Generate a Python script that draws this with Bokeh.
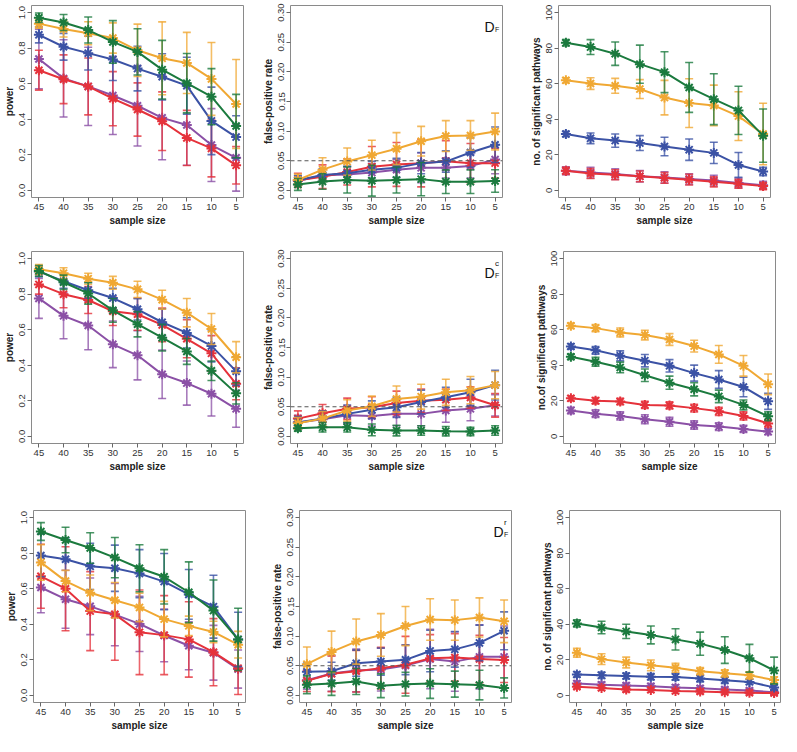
from bokeh.plotting import figure
from bokeh.layouts import row, column
from bokeh.models import Range1d, FixedTicker, NumeralTickFormatter, Span, ColumnDataSource, Label
from bokeh.embed import file_html
from bokeh.resources import INLINE

sample_size = [45, 40, 35, 30, 25, 20, 15, 10, 5]
series_order = ["purple", "red", "blue", "orange", "green"]
colors = {"green": "#1B7A3E", "orange": "#F0A833", "blue": "#3B52A5",
          "red": "#E5323B", "purple": "#8B50A6"}

power_yticks = [0.0, 0.2, 0.4, 0.6, 0.8, 1.0]
fpr_yticks = [0.0, 0.05, 0.10, 0.15, 0.20, 0.25, 0.30]
path_yticks = [0, 20, 40, 60, 80, 100]

# ---- Row 1: D_F ----
power_DF = {
    "green":  [0.971, 0.944, 0.902, 0.835, 0.779, 0.679, 0.603, 0.527, 0.362],
    "orange": [0.938, 0.908, 0.884, 0.857, 0.788, 0.743, 0.717, 0.627, 0.486],
    "blue":   [0.875, 0.808, 0.772, 0.736, 0.685, 0.639, 0.589, 0.391, 0.300],
    "red":    [0.676, 0.625, 0.585, 0.516, 0.455, 0.389, 0.295, 0.236, 0.141],
    "purple": [0.739, 0.630, 0.585, 0.534, 0.476, 0.408, 0.368, 0.255, 0.183],
}
power_DF_sd = {
    "green":  [0.027, 0.045, 0.073, 0.120, 0.130, 0.165, 0.167, 0.158, 0.178],
    "orange": [0.025, 0.045, 0.065, 0.085, 0.147, 0.205, 0.172, 0.205, 0.250],
    "blue":   [0.045, 0.075, 0.095, 0.118, 0.125, 0.130, 0.160, 0.190, 0.120],
    "red":    [0.112, 0.137, 0.160, 0.152, 0.150, 0.165, 0.155, 0.160, 0.105],
    "purple": [0.168, 0.217, 0.220, 0.220, 0.226, 0.236, 0.227, 0.205, 0.187],
}
fpr_DF = {
    "green":  [0.010, 0.015, 0.0175, 0.0164, 0.0175, 0.019, 0.0147, 0.0147, 0.0158],
    "orange": [0.0175, 0.035, 0.0486, 0.0595, 0.0704, 0.083, 0.0917, 0.0927, 0.0993],
    "blue":   [0.017, 0.026, 0.029, 0.035, 0.038, 0.046, 0.0486, 0.064, 0.077],
    "red":    [0.017, 0.023, 0.031, 0.040, 0.0437, 0.046, 0.049, 0.046, 0.046],
    "purple": [0.016, 0.0256, 0.027, 0.030, 0.035, 0.038, 0.038, 0.041, 0.052],
}
fpr_DF_sd = {
    "green":  [0.010, 0.013, 0.022, 0.026, 0.022, 0.028, 0.020, 0.020, 0.019],
    "orange": [0.010, 0.020, 0.023, 0.025, 0.027, 0.025, 0.026, 0.025, 0.031],
    "blue":   [0.008, 0.010, 0.012, 0.014, 0.016, 0.018, 0.018, 0.025, 0.030],
    "red":    [0.012, 0.020, 0.022, 0.034, 0.037, 0.040, 0.035, 0.033, 0.025],
    "purple": [0.008, 0.010, 0.013, 0.015, 0.017, 0.025, 0.017, 0.020, 0.024],
}
path_DF = {
    "green":  [83.0, 80.6, 76.9, 71.0, 66.5, 57.9, 51.3, 45.0, 30.8],
    "orange": [61.9, 60.1, 58.8, 57.0, 52.2, 49.1, 47.8, 41.8, 31.7],
    "blue":   [31.7, 29.3, 28.0, 26.6, 24.7, 22.9, 21.1, 14.3, 10.6],
    "red":    [11.0, 9.5, 8.8, 7.9, 7.0, 6.0, 4.8, 3.7, 2.4],
    "purple": [11.0, 10.0, 9.2, 7.9, 7.3, 6.4, 5.5, 4.2, 2.9],
}
path_DF_sd = {
    "green":  [1.8, 4.2, 6.6, 10.7, 11.5, 14.0, 14.3, 13.6, 15.0],
    "orange": [1.5, 3.3, 4.2, 5.3, 9.7, 13.7, 11.4, 13.7, 17.3],
    "blue":   [1.5, 3.0, 3.7, 4.2, 5.2, 6.0, 6.0, 7.0, 2.4],
    "red":    [2.0, 2.8, 2.8, 3.0, 3.0, 3.0, 2.8, 2.5, 2.0],
    "purple": [2.2, 3.0, 3.0, 3.2, 3.2, 3.0, 3.0, 2.8, 2.2],
}

# ---- Row 2: D_F^c ----
power_DFc = {
    "green":  [0.931, 0.867, 0.804, 0.709, 0.631, 0.555, 0.478, 0.369, 0.242],
    "orange": [0.940, 0.918, 0.887, 0.864, 0.827, 0.769, 0.696, 0.604, 0.445],
    "blue":   [0.927, 0.873, 0.822, 0.778, 0.715, 0.642, 0.582, 0.509, 0.367],
    "red":    [0.855, 0.800, 0.767, 0.704, 0.687, 0.627, 0.549, 0.467, 0.296],
    "purple": [0.776, 0.678, 0.624, 0.518, 0.456, 0.349, 0.300, 0.240, 0.155],
}
power_DFc_sd = {
    "green":  [0.030, 0.040, 0.060, 0.067, 0.071, 0.075, 0.073, 0.055, 0.060],
    "orange": [0.027, 0.031, 0.031, 0.036, 0.046, 0.053, 0.080, 0.087, 0.088],
    "blue":   [0.030, 0.040, 0.045, 0.055, 0.060, 0.075, 0.085, 0.090, 0.080],
    "red":    [0.055, 0.076, 0.076, 0.080, 0.090, 0.095, 0.107, 0.100, 0.090],
    "purple": [0.112, 0.129, 0.137, 0.131, 0.138, 0.136, 0.124, 0.125, 0.104],
}
fpr_DFc = {
    "green":  [0.0137, 0.0153, 0.0153, 0.011, 0.0099, 0.0099, 0.0088, 0.0082, 0.0099],
    "orange": [0.022, 0.030, 0.0438, 0.051, 0.063, 0.067, 0.0744, 0.078, 0.0865],
    "blue":   [0.0235, 0.030, 0.038, 0.045, 0.049, 0.058, 0.066, 0.0744, 0.0865],
    "red":    [0.030, 0.0389, 0.0465, 0.049, 0.0564, 0.060, 0.0618, 0.0657, 0.0525],
    "purple": [0.0235, 0.029, 0.0356, 0.0345, 0.038, 0.038, 0.0438, 0.0465, 0.0525],
}
fpr_DFc_sd = {
    "green":  [0.005, 0.008, 0.008, 0.010, 0.009, 0.008, 0.008, 0.007, 0.008],
    "orange": [0.010, 0.012, 0.018, 0.017, 0.022, 0.021, 0.022, 0.023, 0.023],
    "blue":   [0.010, 0.013, 0.015, 0.015, 0.017, 0.020, 0.017, 0.022, 0.025],
    "red":    [0.013, 0.015, 0.018, 0.018, 0.020, 0.020, 0.018, 0.018, 0.020],
    "purple": [0.012, 0.013, 0.014, 0.017, 0.020, 0.020, 0.020, 0.020, 0.018],
}
path_DFc = {
    "green":  [44.8, 42.0, 38.8, 34.4, 30.2, 26.5, 22.5, 17.7, 11.3],
    "orange": [62.2, 60.9, 58.5, 57.0, 54.5, 50.8, 46.1, 39.7, 29.3],
    "blue":   [50.6, 48.4, 45.3, 42.6, 39.7, 35.6, 32.0, 27.8, 19.7],
    "red":    [21.4, 20.1, 19.6, 17.7, 17.4, 15.9, 14.1, 11.5, 7.3],
    "purple": [14.6, 12.8, 11.5, 9.7, 8.2, 6.4, 5.5, 4.2, 2.7],
}
path_DFc_sd = {
    "green":  [1.5, 2.5, 3.0, 3.5, 3.7, 3.7, 3.5, 2.8, 2.5],
    "orange": [1.5, 2.0, 2.5, 2.7, 3.3, 3.3, 5.0, 5.8, 5.8],
    "blue":   [1.5, 2.2, 2.8, 3.5, 3.5, 4.5, 5.0, 5.5, 4.5],
    "red":    [1.5, 1.8, 1.8, 2.0, 2.0, 2.2, 2.3, 2.3, 2.0],
    "purple": [1.8, 2.2, 2.3, 2.5, 2.5, 2.3, 2.2, 2.0, 1.8],
}

# ---- Row 3: D_F^r ----
power_DFr = {
    "green":  [0.922, 0.874, 0.829, 0.775, 0.715, 0.667, 0.580, 0.477, 0.315],
    "orange": [0.748, 0.643, 0.577, 0.535, 0.495, 0.429, 0.391, 0.357, 0.285],
    "blue":   [0.787, 0.766, 0.726, 0.715, 0.685, 0.640, 0.568, 0.499, 0.315],
    "red":    [0.670, 0.600, 0.474, 0.456, 0.355, 0.339, 0.315, 0.243, 0.153],
    "purple": [0.607, 0.541, 0.501, 0.454, 0.402, 0.337, 0.279, 0.240, 0.148],
}
power_DFr_sd = {
    "green":  [0.050, 0.072, 0.086, 0.113, 0.132, 0.153, 0.171, 0.172, 0.175],
    "orange": [0.100, 0.060, 0.100, 0.100, 0.080, 0.100, 0.055, 0.060, 0.075],
    "blue":   [0.120, 0.120, 0.130, 0.130, 0.135, 0.158, 0.140, 0.177, 0.153],
    "red":    [0.180, 0.236, 0.222, 0.258, 0.238, 0.222, 0.212, 0.189, 0.148],
    "purple": [0.142, 0.163, 0.159, 0.175, 0.155, 0.148, 0.135, 0.154, 0.107],
}
fpr_DFr = {
    "green":  [0.018, 0.020, 0.0234, 0.0163, 0.019, 0.020, 0.019, 0.0174, 0.0125],
    "orange": [0.0527, 0.0734, 0.0908, 0.102, 0.117, 0.128, 0.127, 0.1315, 0.125],
    "blue":   [0.0397, 0.0408, 0.0543, 0.057, 0.060, 0.075, 0.0777, 0.0886, 0.109],
    "red":    [0.0245, 0.0364, 0.0408, 0.046, 0.0516, 0.0625, 0.064, 0.0614, 0.0598],
    "purple": [0.0255, 0.037, 0.042, 0.0435, 0.0505, 0.0614, 0.057, 0.065, 0.065],
}
fpr_DFr_sd = {
    "green":  [0.015, 0.020, 0.022, 0.020, 0.020, 0.025, 0.022, 0.025, 0.017],
    "orange": [0.029, 0.035, 0.038, 0.036, 0.033, 0.035, 0.034, 0.033, 0.036],
    "blue":   [0.015, 0.015, 0.022, 0.023, 0.025, 0.035, 0.030, 0.030, 0.032],
    "red":    [0.018, 0.030, 0.035, 0.035, 0.048, 0.040, 0.040, 0.040, 0.038],
    "purple": [0.015, 0.030, 0.036, 0.036, 0.035, 0.050, 0.050, 0.054, 0.052],
}
path_DFr = {
    "green":  [40.5, 38.2, 36.0, 34.0, 31.5, 29.1, 25.5, 20.9, 14.0],
    "orange": [24.0, 20.4, 18.5, 16.9, 15.5, 13.6, 12.4, 11.3, 8.7],
    "blue":   [11.8, 11.3, 10.9, 10.5, 10.4, 9.5, 8.5, 7.6, 4.5],
    "red":    [4.9, 4.2, 3.3, 3.1, 2.4, 2.2, 1.8, 1.5, 1.3],
    "purple": [6.7, 6.0, 5.5, 5.1, 4.5, 4.0, 3.3, 2.7, 1.8],
}
path_DFr_sd = {
    "green":  [2.0, 3.5, 4.0, 5.0, 6.0, 6.5, 7.5, 7.8, 7.5],
    "orange": [2.5, 3.0, 3.0, 3.0, 2.5, 2.0, 2.0, 2.0, 1.8],
    "blue":   [1.5, 1.8, 1.7, 1.8, 1.9, 1.9, 1.8, 1.5, 1.3],
    "red":    [1.2, 1.3, 1.3, 1.3, 1.2, 1.2, 1.0, 1.0, 0.9],
    "purple": [1.5, 1.5, 1.5, 1.5, 1.5, 1.4, 1.3, 1.2, 1.0],
}

FONT = "Liberation Sans"
FRAME_W, FRAME_H = 212, 192
X_START, X_END = 46.5, 3.5
BOTTOM = 32


def make_panel(kind, means, sds, top, left, right, ylabel, tag=None):
    if kind == "power":
        yr, ticks, fmt = (-0.04, 1.04), power_yticks, "0.0"
    elif kind == "fpr":
        yr, ticks, fmt = (-0.012, 0.312), fpr_yticks, "0.00"
    else:
        yr, ticks, fmt = (-4, 104), path_yticks, "0"
    p = figure(width=left + FRAME_W + right, height=top + FRAME_H + BOTTOM,
               x_range=Range1d(X_START, X_END), y_range=Range1d(*yr),
               output_backend="svg", toolbar_location=None,
               min_border_left=left, min_border_right=right,
               min_border_top=top, min_border_bottom=BOTTOM,
               background_fill_color="white", border_fill_color="white")
    p.grid.visible = False
    p.outline_line_color = "#8a8a8a"
    p.outline_line_width = 1
    for ax in (p.xaxis[0], p.yaxis[0]):
        ax.axis_line_color = None
        ax.major_tick_line_color = "#666666"
        ax.minor_tick_line_color = None
        ax.major_tick_out = 4
        ax.major_tick_in = 0
        ax.major_label_text_font = FONT
        ax.major_label_text_font_size = "9.5px"
        ax.major_label_text_color = "#333333"
        ax.axis_label_text_font = FONT
        ax.axis_label_text_font_style = "bold"
        ax.axis_label_text_font_size = "10px"
        ax.axis_label_text_color = "#222222"
        ax.major_label_standoff = 2
        ax.axis_label_standoff = 2
    p.xaxis[0].ticker = FixedTicker(ticks=sample_size)
    p.xaxis[0].axis_label = "sample size"
    p.yaxis[0].ticker = FixedTicker(ticks=ticks)
    p.yaxis[0].formatter = NumeralTickFormatter(format=fmt)
    p.yaxis[0].major_label_orientation = "parallel"
    p.yaxis[0].axis_label = ylabel

    if kind == "fpr":
        p.add_layout(Span(location=0.05, dimension="width", line_color="#555555",
                          line_dash="4 3", line_width=1))

    for name in series_order:
        c = colors[name]
        m = means[name]
        s = sds[name]
        lo = [a - b for a, b in zip(m, s)]
        hi = [a + b for a, b in zip(m, s)]
        src = ColumnDataSource(dict(x=sample_size, y=m, lo=lo, hi=hi))
        p.segment(x0="x", y0="lo", x1="x", y1="hi", source=src,
                  line_color=c, line_width=1.6, line_alpha=0.75)
        p.scatter(x="x", y="lo", source=src, marker="dash", size=8,
                  line_color=c, line_width=1.6, line_alpha=0.8)
        p.scatter(x="x", y="hi", source=src, marker="dash", size=8,
                  line_color=c, line_width=1.6, line_alpha=0.8)
        p.line(x="x", y="y", source=src, line_color=c, line_width=2)
        p.scatter(x="x", y="y", source=src, marker="asterisk", size=10,
                  line_color=c, line_width=2)

    if tag is not None:
        span = yr[1] - yr[0]
        dx = X_START - X_END
        xd = X_START - 0.915 * dx
        p.add_layout(Label(x=xd, y=yr[1] - 0.11 * span, text="D",
                           text_font=FONT, text_font_size="14px",
                           text_color="#111111", text_baseline="alphabetic"))
        xs = xd - 10.5 / FRAME_W * dx
        p.add_layout(Label(x=xs, y=yr[1] - 0.125 * span, text="F",
                           text_font=FONT, text_font_size="7px",
                           text_color="#111111", text_baseline="alphabetic"))
        if tag:
            p.add_layout(Label(x=xs, y=yr[1] - 0.06 * span, text=tag,
                               text_font=FONT, text_font_size="8px",
                               text_color="#111111", text_baseline="alphabetic"))
    return p


# (left, right) borders per panel for each row, and top border per row
rows_spec = [
    (power_DF, power_DF_sd, fpr_DF, fpr_DF_sd, path_DF, path_DF_sd, 5, "",
     "no. of significant pathways", [(31, 16), (31, 25), (31, 11)]),
    (power_DFc, power_DFc_sd, fpr_DFc, fpr_DFc_sd, path_DFc, path_DFc_sd, 22, "c",
     "no.of significant pathways", [(31, 16), (31, 30), (31, 6)]),
    (power_DFr, power_DFr_sd, fpr_DFr, fpr_DFr_sd, path_DFr, path_DFr_sd, 35, "r",
     "no. of significant pathways", [(33, 23), (31, 27), (31, 0)]),
]

rows = []
for pw, pws, fp, fps, pa, pas, top, tag, plabel, borders in rows_spec:
    p1 = make_panel("power", pw, pws, top, borders[0][0], borders[0][1], "power")
    p2 = make_panel("fpr", fp, fps, top, borders[1][0], borders[1][1],
                    "false-positive rate", tag=tag)
    p3 = make_panel("path", pa, pas, top, borders[2][0], borders[2][1], plabel)
    rows.append(row(p1, p2, p3))

layout = column(*rows)

open("out.html", "w").write(file_html(layout, INLINE))
